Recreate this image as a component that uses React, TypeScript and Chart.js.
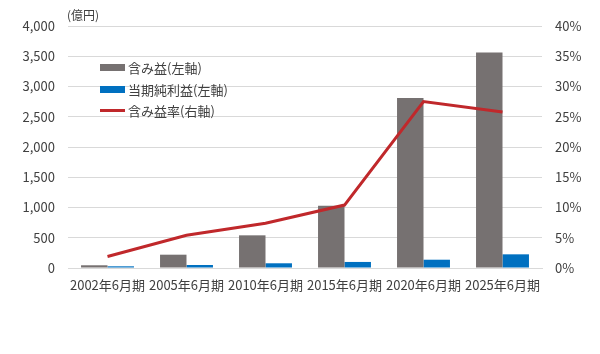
import React, { useEffect, useRef } from "react";
import { Chart, registerables } from "chart.js";

Chart.register(...registerables);

const categories = ["2002年6月期", "2005年6月期", "2010年6月期", "2015年6月期", "2020年6月期", "2025年6月期"];
const unrealizedGain = [45, 220, 540, 1030, 2810, 3560];
const netIncome = [28, 50, 78, 100, 137, 226];
const gainRatio = [1.9, 5.4, 7.4, 10.4, 27.5, 25.8];
const leftTicks = [0, 500, 1000, 1500, 2000, 2500, 3000, 3500, 4000];
const rightTicks = [0, 5, 10, 15, 20, 25, 30, 35, 40];

const FONT = "'Noto Sans CJK JP', 'Noto Sans', sans-serif";
const TEXT = "#404040";
const GRAY = "#767171";
const BLUE = "#0070C0";
const RED = "#C0282B";

export default function App() {
  const ref = useRef<HTMLCanvasElement>(null);
  useEffect(() => {
    const chart = new Chart(ref.current!, {
      data: {
        labels: categories,
        datasets: [
          {
            type: "line",
            label: "含み益率(右軸)",
            data: gainRatio,
            yAxisID: "y1",
            borderColor: RED,
            borderWidth: 3,
            pointRadius: 0,
            tension: 0,
            order: 0,
          },
          {
            type: "bar",
            label: "含み益(左軸)",
            data: unrealizedGain,
            yAxisID: "y",
            backgroundColor: GRAY,
            categoryPercentage: 0.67,
            barPercentage: 1,
            order: 1,
          },
          {
            type: "bar",
            label: "当期純利益(左軸)",
            data: netIncome,
            yAxisID: "y",
            backgroundColor: BLUE,
            categoryPercentage: 0.67,
            barPercentage: 1,
            order: 1,
          },
        ],
      } as any,
      options: {
        responsive: false,
        animation: false,
        layout: { padding: { top: 26, left: 0, right: 0, bottom: 0 } },
        plugins: { legend: { display: false }, tooltip: { enabled: false } },
        scales: {
          x: {
            grid: { display: false, drawTicks: false },
            border: { display: true, color: "#d9d9d9" },
            ticks: { color: TEXT, font: { family: FONT, size: 13 }, padding: 9, maxRotation: 0, autoSkip: false },
            afterFit: (s: any) => { s.height = 86; },
          },
          y: {
            position: "left",
            min: 0,
            max: 4000,
            afterBuildTicks: (s: any) => { s.ticks = leftTicks.map((v) => ({ value: v })); },
            grid: { color: "#d9d9d9", drawTicks: false },
            border: { display: false },
            ticks: {
              color: TEXT,
              font: { family: FONT, size: 13 },
              padding: 13,
              callback: (v: any) => Number(v).toLocaleString("en-US"),
            },
            afterFit: (s: any) => { s.width = 68; },
          },
          y1: {
            position: "right",
            min: 0,
            max: 40,
            afterBuildTicks: (s: any) => { s.ticks = rightTicks.map((v) => ({ value: v })); },
            grid: { display: false, drawTicks: false },
            border: { display: false },
            ticks: { color: TEXT, font: { family: FONT, size: 13 }, padding: 13, callback: (v: any) => v + "%" },
            afterFit: (s: any) => { s.width = 58; },
          },
        },
      },
    });
    return () => chart.destroy();
  }, []);

  const legendItem = (top: number, swatch: React.ReactNode, text: string) => (
    <div style={{ position: "absolute", left: 100, top, display: "flex", alignItems: "center", height: 16 }}>
      {swatch}
      <span style={{ marginLeft: 3, fontFamily: FONT, fontSize: 13, color: TEXT, whiteSpace: "nowrap" }}>{text}</span>
    </div>
  );

  return (
    <div style={{ position: "absolute", left: 0, top: 0, width: 600, height: 354, background: "#fff" }}>
      <canvas ref={ref} width={600} height={354} style={{ display: "block" }} />
      <div style={{ position: "absolute", left: 67, top: 6, fontFamily: FONT, fontSize: 12, color: TEXT }}>(億円)</div>
      {legendItem(59, <div style={{ width: 25, height: 7, background: GRAY }} />, "含み益(左軸)")}
      {legendItem(81, <div style={{ width: 25, height: 7, background: BLUE }} />, "当期純利益(左軸)")}
      {legendItem(102, <div style={{ width: 25, height: 3, background: RED }} />, "含み益率(右軸)")}
    </div>
  );
}
